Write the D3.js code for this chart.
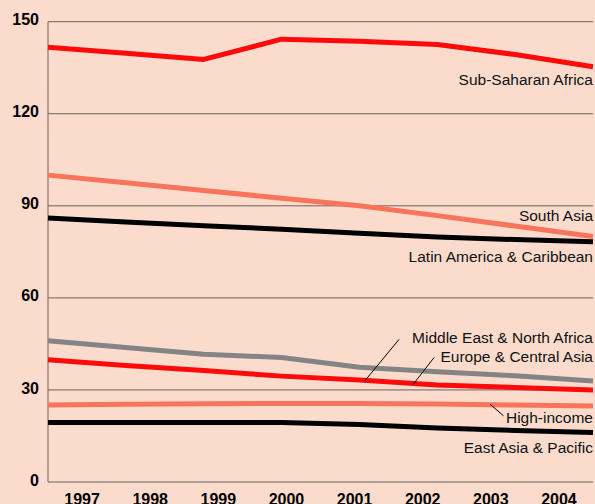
<!DOCTYPE html>
<html>
<head>
<meta charset="utf-8">
<script src="https://cdn.jsdelivr.net/npm/d3@7"></script>
<style>
  body { margin: 0; background: #fbdccc; }
  svg { display: block; font-family: "Liberation Sans", Arial, sans-serif; }
  .grid line { stroke: #6e625a; stroke-width: 1; }
  .tick-label { font-weight: bold; font-size: 16px; fill: #000; }
  .series-label { font-size: 15.5px; fill: #111; }
</style>
</head>
<body>
<div id="chart"></div>
<script>
// data
var years = [1997, 1998, 1999, 2000, 2001, 2002, 2003, 2004];
var yTicks = [0, 30, 60, 90, 120, 150];

var subSaharan   = [141.7, 139.7, 137.7, 144.3, 143.6, 142.6, 139.3, 135.3];
var southAsia    = [100.0, 97.5, 95.0, 92.5, 90.0, 86.8, 83.4, 80.0];
var latinAmerica = [86.0, 84.7, 83.5, 82.4, 81.1, 79.8, 79.0, 78.3];
var mena         = [46.0, 43.8, 41.6, 40.6, 37.4, 35.9, 34.6, 32.9];
var europe       = [39.8, 38.0, 36.3, 34.5, 33.2, 31.6, 30.8, 30.0];
var highIncome   = [25.1, 25.3, 25.5, 25.6, 25.6, 25.4, 25.1, 24.8];
var eastAsia     = [19.4, 19.4, 19.4, 19.4, 18.7, 17.6, 16.8, 16.1];

// label text and where it sits (in data units)
var seriesNames  = ["Sub-Saharan Africa", "South Asia", "Latin America & Caribbean",
                    "Middle East & North Africa", "Europe & Central Asia", "High-income", "East Asia & Pacific"];
var labelValues  = [131, 86.7, 73.6, 47, 41, 21.1, 11.2];
// leader lines: [fromYear, fromValue, toYear, toValue]
var leaders = [
  [2001.51, 46.5, 2001.07, 33.0],
  [2001.96, 40.6, 2001.69, 31.8],
  [2002.68, 25.3, 2002.85, 21.6]
];

var width = 595, height = 504;
var plotLeft = 48, plotRight = 593, plotTop = 21.7, plotBottom = 482;

var svg = d3.select("#chart").append("svg")
  .attr("width", width).attr("height", height);

svg.append("rect").attr("width", width).attr("height", height).attr("fill", "#fbdccc");

var x = d3.scaleLinear().domain([1997, 2004]).range([plotLeft, plotRight]);
var xBand = d3.scaleBand().domain(years).range([plotLeft, plotRight]);
var y = d3.scaleLinear().domain([0, 150]).range([plotBottom, plotTop]);

// gridlines
var grid = svg.append("g").attr("class", "grid");
grid.selectAll("line.h").data(yTicks).enter().append("line")
  .attr("x1", plotLeft).attr("x2", plotRight)
  .attr("y1", d => y(d)).attr("y2", d => y(d));
grid.append("line").attr("x1", plotLeft).attr("x2", plotLeft).attr("y1", y(150)).attr("y2", y(0));

// y tick labels
svg.append("g").selectAll("text").data(yTicks).enter().append("text")
  .attr("class", "tick-label")
  .attr("x", 39).attr("y", d => y(d) - 2)
  .attr("dy", "0.35em")
  .attr("text-anchor", "end")
  .text(d => d);

// x tick labels, centred in year bands
svg.append("g").selectAll("text").data(years).enter().append("text")
  .attr("class", "tick-label")
  .attr("x", d => xBand(d) + xBand.bandwidth() / 2)
  .attr("y", 505)
  .attr("text-anchor", "middle")
  .text(d => d);

var series = [
  { values: highIncome,   color: "#f9745a" },
  { values: eastAsia,     color: "#000000" },
  { values: mena,         color: "#848484" },
  { values: europe,       color: "#ff0a0a" },
  { values: latinAmerica, color: "#000000" },
  { values: southAsia,    color: "#f9745a" },
  { values: subSaharan,   color: "#ff0a0a" }
];

var line = d3.line().x((d, i) => x(years[i])).y(d => y(d));

svg.append("g").selectAll("path").data(series).enter().append("path")
  .attr("d", d => line(d.values))
  .attr("fill", "none")
  .attr("stroke", d => d.color)
  .attr("stroke-width", 5)
  .attr("stroke-linejoin", "round");

// leader lines
svg.append("g").selectAll("line").data(leaders).enter().append("line")
  .attr("x1", d => x(d[0])).attr("y1", d => y(d[1]))
  .attr("x2", d => x(d[2])).attr("y2", d => y(d[3]))
  .attr("stroke", "#000").attr("stroke-width", 1);

// series labels
svg.append("g").selectAll("text").data(seriesNames).enter().append("text")
  .attr("class", "series-label")
  .attr("x", plotRight)
  .attr("y", (d, i) => y(labelValues[i]))
  .attr("dy", "0.35em")
  .attr("text-anchor", "end")
  .text(d => d);
</script>
</body>
</html>
